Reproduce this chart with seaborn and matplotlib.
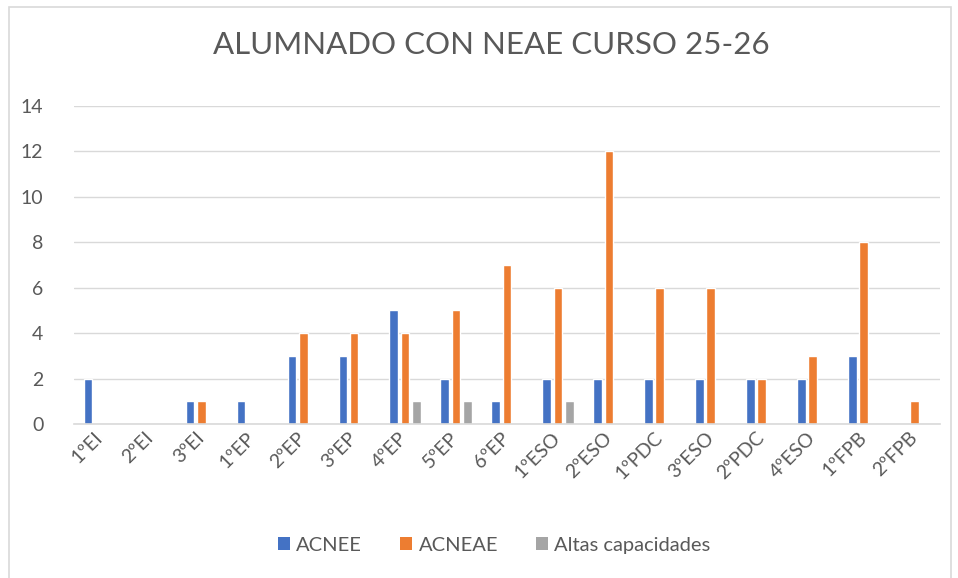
import pandas as pd
import numpy as np
import seaborn as sns
import matplotlib.pyplot as plt
from matplotlib.patches import Rectangle, Patch

# Data
cursos = ["1ºEI", "2ºEI", "3ºEI", "1ºEP", "2ºEP", "3ºEP", "4ºEP", "5ºEP", "6ºEP",
          "1ºESO", "2ºESO", "1ºPDC", "3ºESO", "2ºPDC", "4ºESO", "1ºFPB", "2ºFPB"]
acnee = [2, 0, 1, 1, 3, 3, 5, 2, 1, 2, 2, 2, 2, 2, 2, 3, 0]
acneae = [0, 0, 1, 0, 4, 4, 4, 5, 7, 6, 12, 6, 6, 2, 3, 8, 1]
altas = [0, 0, 0, 0, 0, 0, 1, 1, 0, 1, 0, 0, 0, 0, 0, 0, 0]
series = ["ACNEE", "ACNEAE", "Altas capacidades"]
colores = ["#4472C4", "#ED7D31", "#A5A5A5"]

df = pd.DataFrame({"Curso": cursos, "ACNEE": acnee, "ACNEAE": acneae,
                   "Altas capacidades": altas})
long_df = df.melt(id_vars="Curso", var_name="Tipo", value_name="Alumnos")

sns.set_theme(style="white")
plt.rcParams['font.family'] = ['Lato', 'DejaVu Sans']
texto = "#595959"

fig = plt.figure(figsize=(9.58, 5.78), dpi=100)
ax = fig.add_axes([0.0772, 0.2664, 0.9040, 0.5507])

sns.barplot(data=long_df, x="Curso", y="Alumnos", hue="Tipo", order=cursos,
            hue_order=series, palette=colores, width=0.665, gap=0.23,
            saturation=1, ax=ax, legend=False, errorbar=None)

ax.set_xlim(-0.5, len(cursos) - 0.5)
ax.set_ylim(0, 14)
ax.set_yticks(range(0, 15, 2))
ax.yaxis.grid(True, color="#D9D9D9", linewidth=1)
ax.set_axisbelow(True)
for side in ["top", "right", "left"]:
    ax.spines[side].set_visible(False)
ax.spines["bottom"].set_color("#D9D9D9")
ax.spines["bottom"].set_linewidth(1.2)
ax.set_xlabel("")
ax.set_ylabel("")
ax.tick_params(axis="both", length=0, colors=texto, labelsize=14)
ax.tick_params(axis="y", pad=22)
ax.tick_params(axis="x", pad=8)
for lab in ax.get_xticklabels():
    lab.set_rotation(45)
    lab.set_ha("right")
    lab.set_va("center")
    lab.set_rotation_mode("anchor")
    lab.set_color(texto)

fig.text(0.5125, 0.922, "ALUMNADO CON NEAE CURSO 25-26", ha="center", va="center",
         fontsize=22.5, color=texto)

handles = [Patch(facecolor=c, edgecolor="none") for c in colores]
fig.legend(handles, series, loc="center", bbox_to_anchor=(0.516, 0.057), ncol=3,
           frameon=False, fontsize=14.5, labelcolor=texto, handlelength=0.6,
           handleheight=0.6, handletextpad=0.3, columnspacing=1.9)

# Chart-area frame like the original spreadsheet chart
fig.patches.append(Rectangle((9 / 958, -0.01), (951 - 9) / 958, 1 - 7 / 578 + 0.01,
                             transform=fig.transFigure, fill=False,
                             edgecolor="#D9D9D9", linewidth=1.2))

fig.savefig("out.png", dpi=100)
